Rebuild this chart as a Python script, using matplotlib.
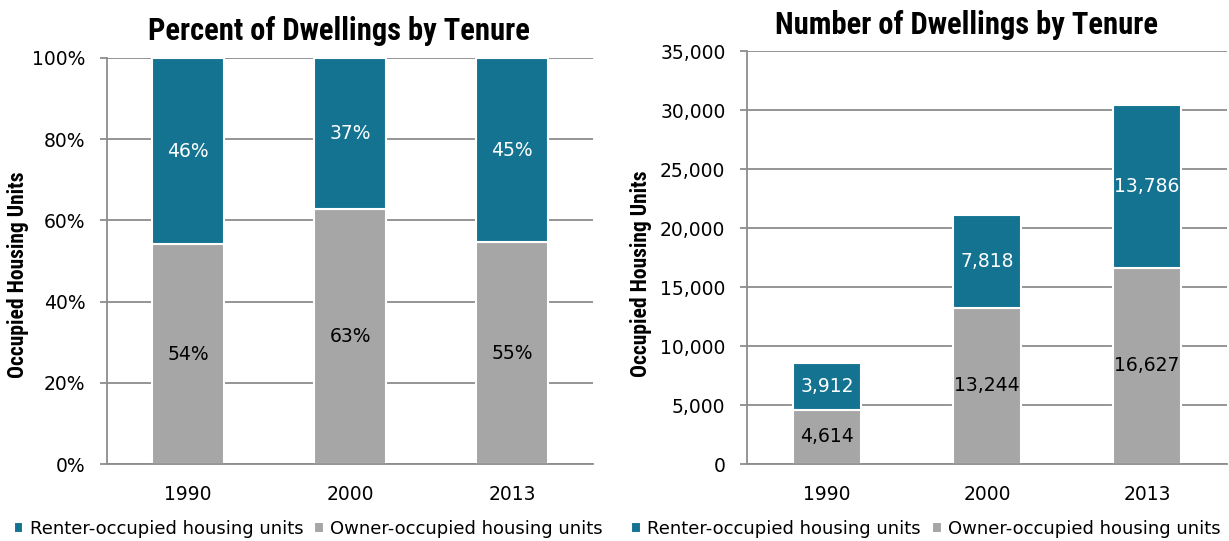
import matplotlib
matplotlib.use('Agg')
import matplotlib.pyplot as plt
import matplotlib.font_manager as fm
from matplotlib.ticker import FuncFormatter, MultipleLocator
import numpy as np

# wide face for numbers/legend, condensed bold face for the titles
plt.rcParams['font.family'] = ['DejaVu Sans']
names = set(f.name for f in fm.fontManager.ttflist)
cond = [n for n in ['Roboto Condensed', 'Liberation Sans Narrow', 'Open Sans Condensed'] if n in names]
title_font = dict(family=cond + ['DejaVu Sans'], stretch='condensed', fontweight='bold')

# data
years = ['1990', '2000', '2013']
owner = [4614, 13244, 16627]
renter = [3912, 7818, 13786]

owner_pct = [o / (o + r) * 100 for o, r in zip(owner, renter)]
renter_pct = [r / (o + r) * 100 for o, r in zip(owner, renter)]

teal = '#137391'
grey = '#a6a6a6'
gridc = '#8c8c8c'

fig = plt.figure(figsize=(12.29, 5.41), dpi=100)
ax1 = fig.add_axes([0.0871, 0.1423, 0.3954, 0.7505])
ax2 = fig.add_axes([0.6078, 0.1423, 0.3906, 0.7634])

x = np.arange(len(years))


def style(ax):
    ax.set_axisbelow(True)
    ax.yaxis.grid(True, color=gridc, linewidth=1.3)
    for s in ['top', 'right']:
        ax.spines[s].set_visible(False)
    ax.spines['left'].set_color(gridc)
    ax.spines['bottom'].set_color(gridc)
    ax.spines['left'].set_linewidth(1.3)
    ax.spines['bottom'].set_linewidth(1.3)
    ax.tick_params(axis='y', length=5, width=1.3, color=gridc, labelsize=13.5, pad=10.5)
    ax.tick_params(axis='x', length=0, labelsize=13.5, pad=15)
    ax.set_xticks(x)
    ax.set_xticklabels(years)
    ax.set_ylabel('Occupied Housing Units', fontsize=15.5, **title_font)
    ax.set_xlim(-0.5, 2.5)


# left: percent
b1 = ax1.bar(x, owner_pct, width=0.45, color=grey, edgecolor='white', linewidth=1.5)
b2 = ax1.bar(x, renter_pct, width=0.45, bottom=owner_pct, color=teal, edgecolor='white', linewidth=1.5)
style(ax1)
ax1.set_ylim(0, 100)
ax1.yaxis.set_major_locator(MultipleLocator(20))
ax1.yaxis.set_major_formatter(FuncFormatter(lambda v, p: f'{v:.0f}%'))
ax1.bar_label(b1, labels=[f'{v:.0f}%' for v in owner_pct], label_type='center', fontsize=13.5, color='black')
ax1.bar_label(b2, labels=[f'{v:.0f}%' for v in renter_pct], label_type='center', fontsize=13.5, color='white')
ax1.yaxis.set_label_coords(-0.161, 0.465)
ax1.set_title('Percent of Dwellings by Tenure', fontsize=22, pad=13, x=0.478, **title_font)

# right: counts
c1 = ax2.bar(x, owner, width=0.43, color=grey, edgecolor='white', linewidth=1.5)
c2 = ax2.bar(x, renter, width=0.43, bottom=owner, color=teal, edgecolor='white', linewidth=1.5)
style(ax2)
ax2.set_ylim(0, 35000)
ax2.yaxis.set_major_locator(MultipleLocator(5000))
ax2.yaxis.set_major_formatter(FuncFormatter(lambda v, p: f'{v:,.0f}'))
ax2.bar_label(c1, labels=[f'{v:,}' for v in owner], label_type='center', fontsize=13.5, color='black')
ax2.bar_label(c2, labels=[f'{v:,}' for v in renter], label_type='center', fontsize=13.5, color='white')
ax2.yaxis.set_label_coords(-0.198, 0.46)
ax2.set_title('Number of Dwellings by Tenure', fontsize=22, pad=12, x=0.458, **title_font)

# legends
for xpos in [0.011, 0.5135]:
    fig.legend([c2, c1], ['Renter-occupied housing units', 'Owner-occupied housing units'],
               loc='center left', bbox_to_anchor=(xpos, 1 - 529 / 541), ncol=2, frameon=False,
               fontsize=13, handlelength=0.55, handleheight=0.55, handletextpad=0.35,
               columnspacing=0.6, borderaxespad=0, borderpad=0)

fig.savefig('out.png', dpi=100)
